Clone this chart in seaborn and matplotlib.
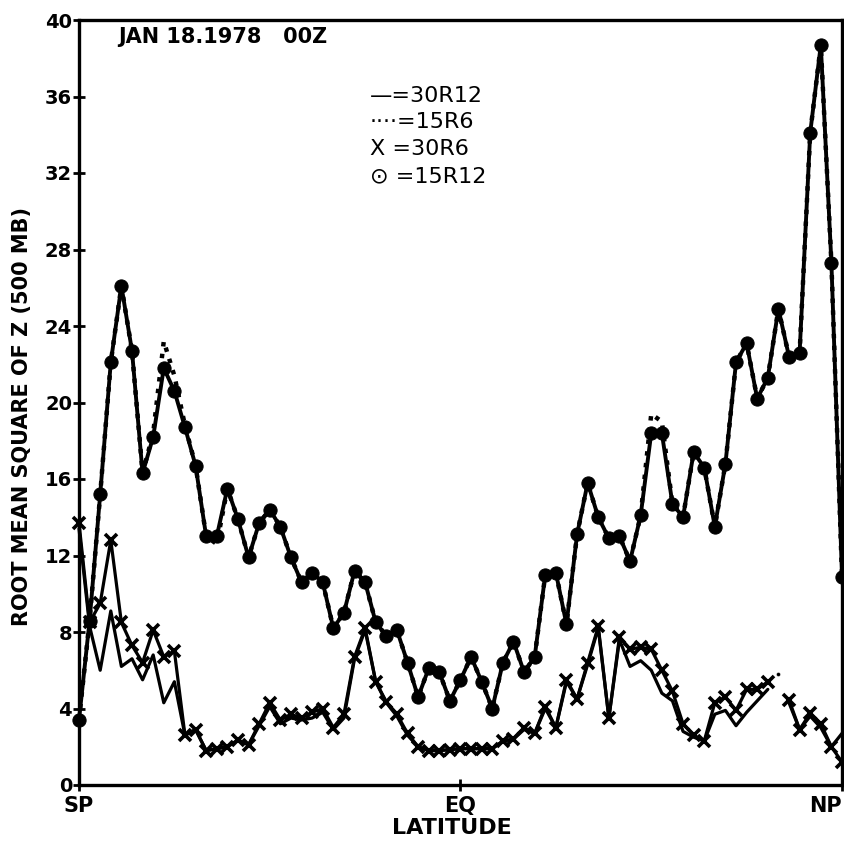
import numpy as np
import pandas as pd
import matplotlib
matplotlib.use("Agg")
import matplotlib.pyplot as plt
import seaborn as sns

# Latitude grid, South Pole to North Pole every 2.5 degrees
latitude = np.arange(-90.0, 90.0 + 1e-9, 2.5)

# RMS of 500 mb height for four resolutions
rms_15r12 = [3.4, 8.6, 15.2, 22.1, 26.1, 22.7, 16.3, 18.2, 21.8, 20.6,
             18.7, 16.7, 13.0, 13.0, 15.5, 13.9, 11.9, 13.7, 14.4, 13.5,
             11.9, 10.6, 11.1, 10.6, 8.2, 9.0, 11.2, 10.6, 8.5, 7.8,
             8.1, 6.4, 4.6, 6.1, 5.9, 4.4, 5.5, 6.7, 5.4, 4.0,
             6.4, 7.5, 5.9, 6.7, 11.0, 11.1, 8.4, 13.1, 15.8, 14.0,
             12.9, 13.0, 11.7, 14.1, 18.4, 18.4, 14.7, 14.0, 17.4, 16.6,
             13.5, 16.8, 22.1, 23.1, 20.2, 21.3, 24.9, 22.4, 22.6, 34.1,
             38.7, 27.3, 10.9]

rms_15r6 = [3.4, 8.6, 15.2, 22.1, 26.1, 22.7, 16.3, 18.4, 23.2, 21.4,
            18.8, 16.7, 13.0, 12.6, 15.5, 13.9, 11.9, 13.7, 14.4, 13.5,
            11.9, 10.6, 11.1, 10.6, 8.2, 9.0, 11.2, 10.6, 8.5, 7.8,
            8.1, 6.4, 4.6, 6.1, 5.9, 4.4, 5.5, 6.7, 5.4, 4.0,
            6.4, 7.5, 5.9, 6.7, 11.0, 11.1, 8.4, 13.1, 15.8, 14.0,
            12.9, 13.0, 11.7, 14.1, 19.4, 19.0, 14.7, 14.0, 17.4, 16.6,
            13.5, 16.8, 22.1, 23.1, 20.2, 21.3, 24.9, 22.4, 22.6, 34.1,
            38.7, 27.3, 10.9]

rms_30r6 = [13.7, 8.5, 9.5, 12.8, 8.5, 7.3, 6.4, 8.1, 6.7, 7.0,
            2.6, 2.9, 1.8, 1.9, 2.0, 2.35, 2.1, 3.2, 4.3, 3.4,
            3.7, 3.5, 3.8, 4.0, 3.0, 3.7, 6.7, 8.2, 5.4, 4.35,
            3.7, 2.7, 2.0, 1.8, 1.8, 1.85, 1.9, 1.9, 1.9, 1.9,
            2.3, 2.4, 3.0, 2.7, 4.1, 3.0, 5.5, 4.5, 6.4, 8.3,
            3.5, 7.75, 7.1, 7.2, 7.1, 6.0, 4.9, 3.2, 2.6, 2.3,
            4.3, 4.6, 3.9, 5.0, 5.0, 5.4, np.nan, 4.45, 2.9, 3.75,
            3.2, 2.0, 1.2]

rms_30r12 = [13.4, 8.3, 6.0, 9.1, 6.2, 6.6, 5.5, 6.8, 4.3, 5.4,
             2.6, 2.9, 1.8, 1.9, 2.0, 2.35, 2.1, 3.1, 4.1, 3.2,
             3.5, 3.4, 3.5, 3.8, 2.9, 3.5, 6.6, 8.1, 5.4, 4.3,
             3.6, 2.6, 2.0, 1.8, 1.8, 1.85, 1.9, 1.9, 1.9, 1.9,
             2.3, 2.4, 2.9, 2.7, 4.0, 3.0, 5.4, 4.5, 6.3, 8.2,
             3.5, 7.6, 6.2, 6.5, 6.0, 4.8, 4.4, 2.8, 2.5, 2.3,
             3.7, 3.9, 3.1, 3.8, 4.4, 5.0, np.nan, 4.3, 2.9, 3.6,
             3.0, 2.0, 2.7]

# Lone 30R12 value plotted without connecting segments
lone_lat = [75.0]
lone_rms = [5.8]

ytick_values = [0, 4, 8, 12, 16, 20, 24, 28, 32, 36, 40]
xtick_values = [-90, 0, 90]
xtick_labels = ["SP", "EQ", "NP"]

legend_lines = ["\u2014=30R12", "\u00b7\u00b7\u00b7\u00b7=15R6", "X =30R6", "\u2299 =15R12"]


def frame(values):
    vals = np.asarray(values, dtype=float)
    seg = np.cumsum(np.isnan(vals))
    df = pd.DataFrame({"lat": latitude, "rms": vals, "seg": seg})
    return df.dropna()


sns.set_theme(style="white")
plt.rcParams["font.family"] = ["DejaVu Sans"]
plt.rcParams["text.color"] = "black"
plt.rcParams["xtick.color"] = "black"
plt.rcParams["ytick.color"] = "black"

W, H = 845, 842
fig = plt.figure(figsize=(W / 100, H / 100), dpi=100)
left, right, top, bottom = 79, 842, 20, 785
ax = fig.add_axes([left / W, 1 - bottom / H, (right - left) / W, (bottom - top) / H])

sns.lineplot(data=frame(rms_30r12), x="lat", y="rms", units="seg", estimator=None,
             color="black", linewidth=2.3, ax=ax)
sns.lineplot(data=frame(rms_30r6), x="lat", y="rms", units="seg", estimator=None,
             color="black", linewidth=2.3, marker="x", markersize=9,
             markeredgewidth=2.6, markeredgecolor="black", ax=ax)
sns.lineplot(data=frame(rms_15r6), x="lat", y="rms", estimator=None,
             color="black", linewidth=3.2, linestyle=":", ax=ax)
sns.lineplot(data=frame(rms_15r12), x="lat", y="rms", estimator=None,
             color="black", linewidth=2.8, marker="o", markersize=9.5,
             markerfacecolor="black", markeredgecolor="black", ax=ax)
sns.scatterplot(x=lone_lat, y=lone_rms, color="black", s=8, ax=ax)

for line in ax.lines:
    line.set_clip_on(False)

ax.set_xlim(-90, 90)
ax.set_ylim(0, 40)
ax.set_xticks(xtick_values)
ax.set_xticklabels(xtick_labels, fontsize=15, fontweight="bold", color="black")
ax.set_yticks(ytick_values)
ax.set_yticklabels([str(v) for v in ytick_values], fontsize=14, fontweight="bold",
                   color="black")
ax.tick_params(axis="y", direction="inout", length=8, width=2, pad=1,
               left=True, colors="black")
ax.tick_params(axis="x", direction="inout", length=8, width=2, pad=4,
               bottom=True, colors="black")
# keep the pole label inside the figure edge
ax.get_xticklabels()[-1].set_horizontalalignment("right")
ax.get_xticklabels()[-1].set_x(90)
ax.set_xlabel("")
ax.set_ylabel("")
for sp in ax.spines.values():
    sp.set_color("black")
    sp.set_linewidth(2.4)

fig.text(22 / W, 1 - 417 / H, "ROOT MEAN SQUARE OF Z (500 MB)", rotation=90,
         ha="center", va="center", fontsize=15, fontweight="bold", color="black")
fig.text(452 / W, 1 - 828 / H, "LATITUDE", ha="center", va="center",
         fontsize=16, fontweight="bold", color="black")
fig.text(118 / W, 1 - 37 / H, "JAN 18.1978   00Z", ha="left", va="center",
         fontsize=15, fontweight="bold", color="black")

legend_y = [96, 122, 149, 176]
for txt, yy in zip(legend_lines, legend_y):
    fig.text(370 / W, 1 - yy / H, txt, ha="left", va="center", fontsize=16,
             color="black")

fig.savefig("out.png", dpi=100)
